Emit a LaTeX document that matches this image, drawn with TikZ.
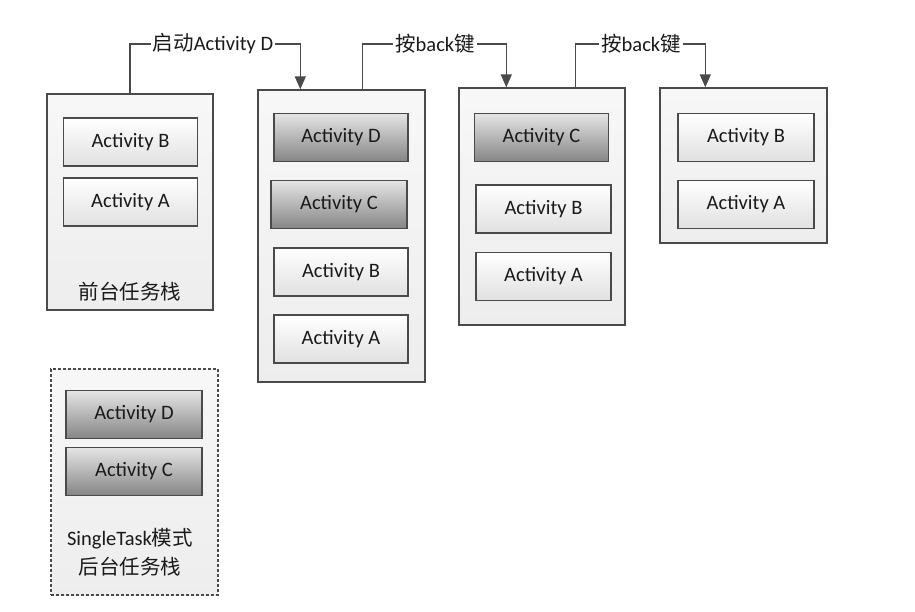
\documentclass[tikz,border=0pt]{standalone}
\usepackage{fontspec}
\setmainfont{Carlito}
\newfontfamily\cjk{Noto Sans CJK SC}
\usetikzlibrary{arrows.meta,calc}
\definecolor{edge}{HTML}{4A4A4A}
\definecolor{txt}{HTML}{1A1A1A}
\tikzset{
  stackbox/.style={draw=edge, line width=1.4pt, top color=white!97!black, bottom color=white!93!black, inner sep=0pt},
  dashbox/.style={stackbox, dashed, dash pattern=on 3pt off 2pt, line width=1.1pt},
  actlight/.style={draw=edge, line width=1.3pt, top color=white, bottom color=white!88!black, minimum width=134pt, minimum height=48pt, inner sep=0pt, text=txt, font=\fontsize{20.5}{24}\selectfont},
  actdark/.style={actlight, top color=white!90!black, bottom color=white!52!black},
  conn/.style={draw=edge, line width=1.5pt},
  tip/.style={-{Triangle[length=13pt,width=11pt]}},
  lbl/.style={inner sep=2pt, text=txt, font=\fontsize{20.5}{29}\selectfont},
}
\begin{document}
\begin{tikzpicture}[x=1pt,y=-1pt]
\useasboundingbox (0,0) rectangle (915,611);
% stacks
\node[stackbox, minimum width=166pt, minimum height=216pt] (s1) at (130,202) {};
\node[stackbox, minimum width=167pt, minimum height=292pt] (s2) at (341.5,236) {};
\node[stackbox, minimum width=166pt, minimum height=237pt] (s3) at (542,206.5) {};
\node[stackbox, minimum width=167pt, minimum height=155pt] (s4) at (743.5,165.5) {};
\node[dashbox, minimum width=167pt, minimum height=226pt] (s5) at (134.5,482) {};
% stack 1
\node[actlight] (s1b) at (130.5,142) {Activity B};
\node[actlight] (s1a) at (130.5,202) {Activity A};
\node[lbl] (s1l) at (130,292) {\cjk 前台任务栈};
% stack 2
\node[actdark] (s2d) at (341,137.5) {Activity D};
\node[actdark, minimum width=136pt] (s2c) at (339,204.5) {Activity C};
\node[actlight] (s2b) at (341,272) {Activity B};
\node[actlight] (s2a) at (341,339) {Activity A};
% stack 3
\node[actdark] (s3c) at (541.5,137.5) {Activity C};
\node[actlight, minimum width=135pt] (s3b) at (543.5,209) {Activity B};
\node[actlight, minimum width=135pt] (s3a) at (543.5,276.5) {Activity A};
% stack 4
\node[actlight, minimum width=136pt] (s4b) at (746,137.5) {Activity B};
\node[actlight, minimum width=136pt] (s4a) at (746,204.5) {Activity A};
% stack 5
\node[actdark, minimum width=136pt] (s5d) at (134,414.5) {Activity D};
\node[actdark, minimum width=136pt] (s5c) at (134,471.5) {Activity C};
\node[lbl, align=center] (s5l) at (130,552) {SingleTask{\cjk 模式}\\{\cjk 后台任务栈}};
% connectors
\node[lbl] (l1) at (213,44) {{\cjk 启动}Activity D};
\node[lbl] (l2) at (435,44) {{\cjk 按}back{\cjk 键}};
\node[lbl] (l3) at (641,44) {{\cjk 按}back{\cjk 键}};
\draw[conn] (s1.north) |- (l1.west);
\draw[conn, tip] (l1.east) -| ($(s2.north west)+(43,0)$);
\draw[conn] ($(s2.north west)+(105,0)$) |- (l2.west);
\draw[conn, tip] (l2.east) -| ($(s3.north west)+(48,0)$);
\draw[conn] ($(s3.north west)+(117,0)$) |- (l3.west);
\draw[conn, tip] (l3.east) -| ($(s4.north west)+(46,0)$);
\end{tikzpicture}
\end{document}
